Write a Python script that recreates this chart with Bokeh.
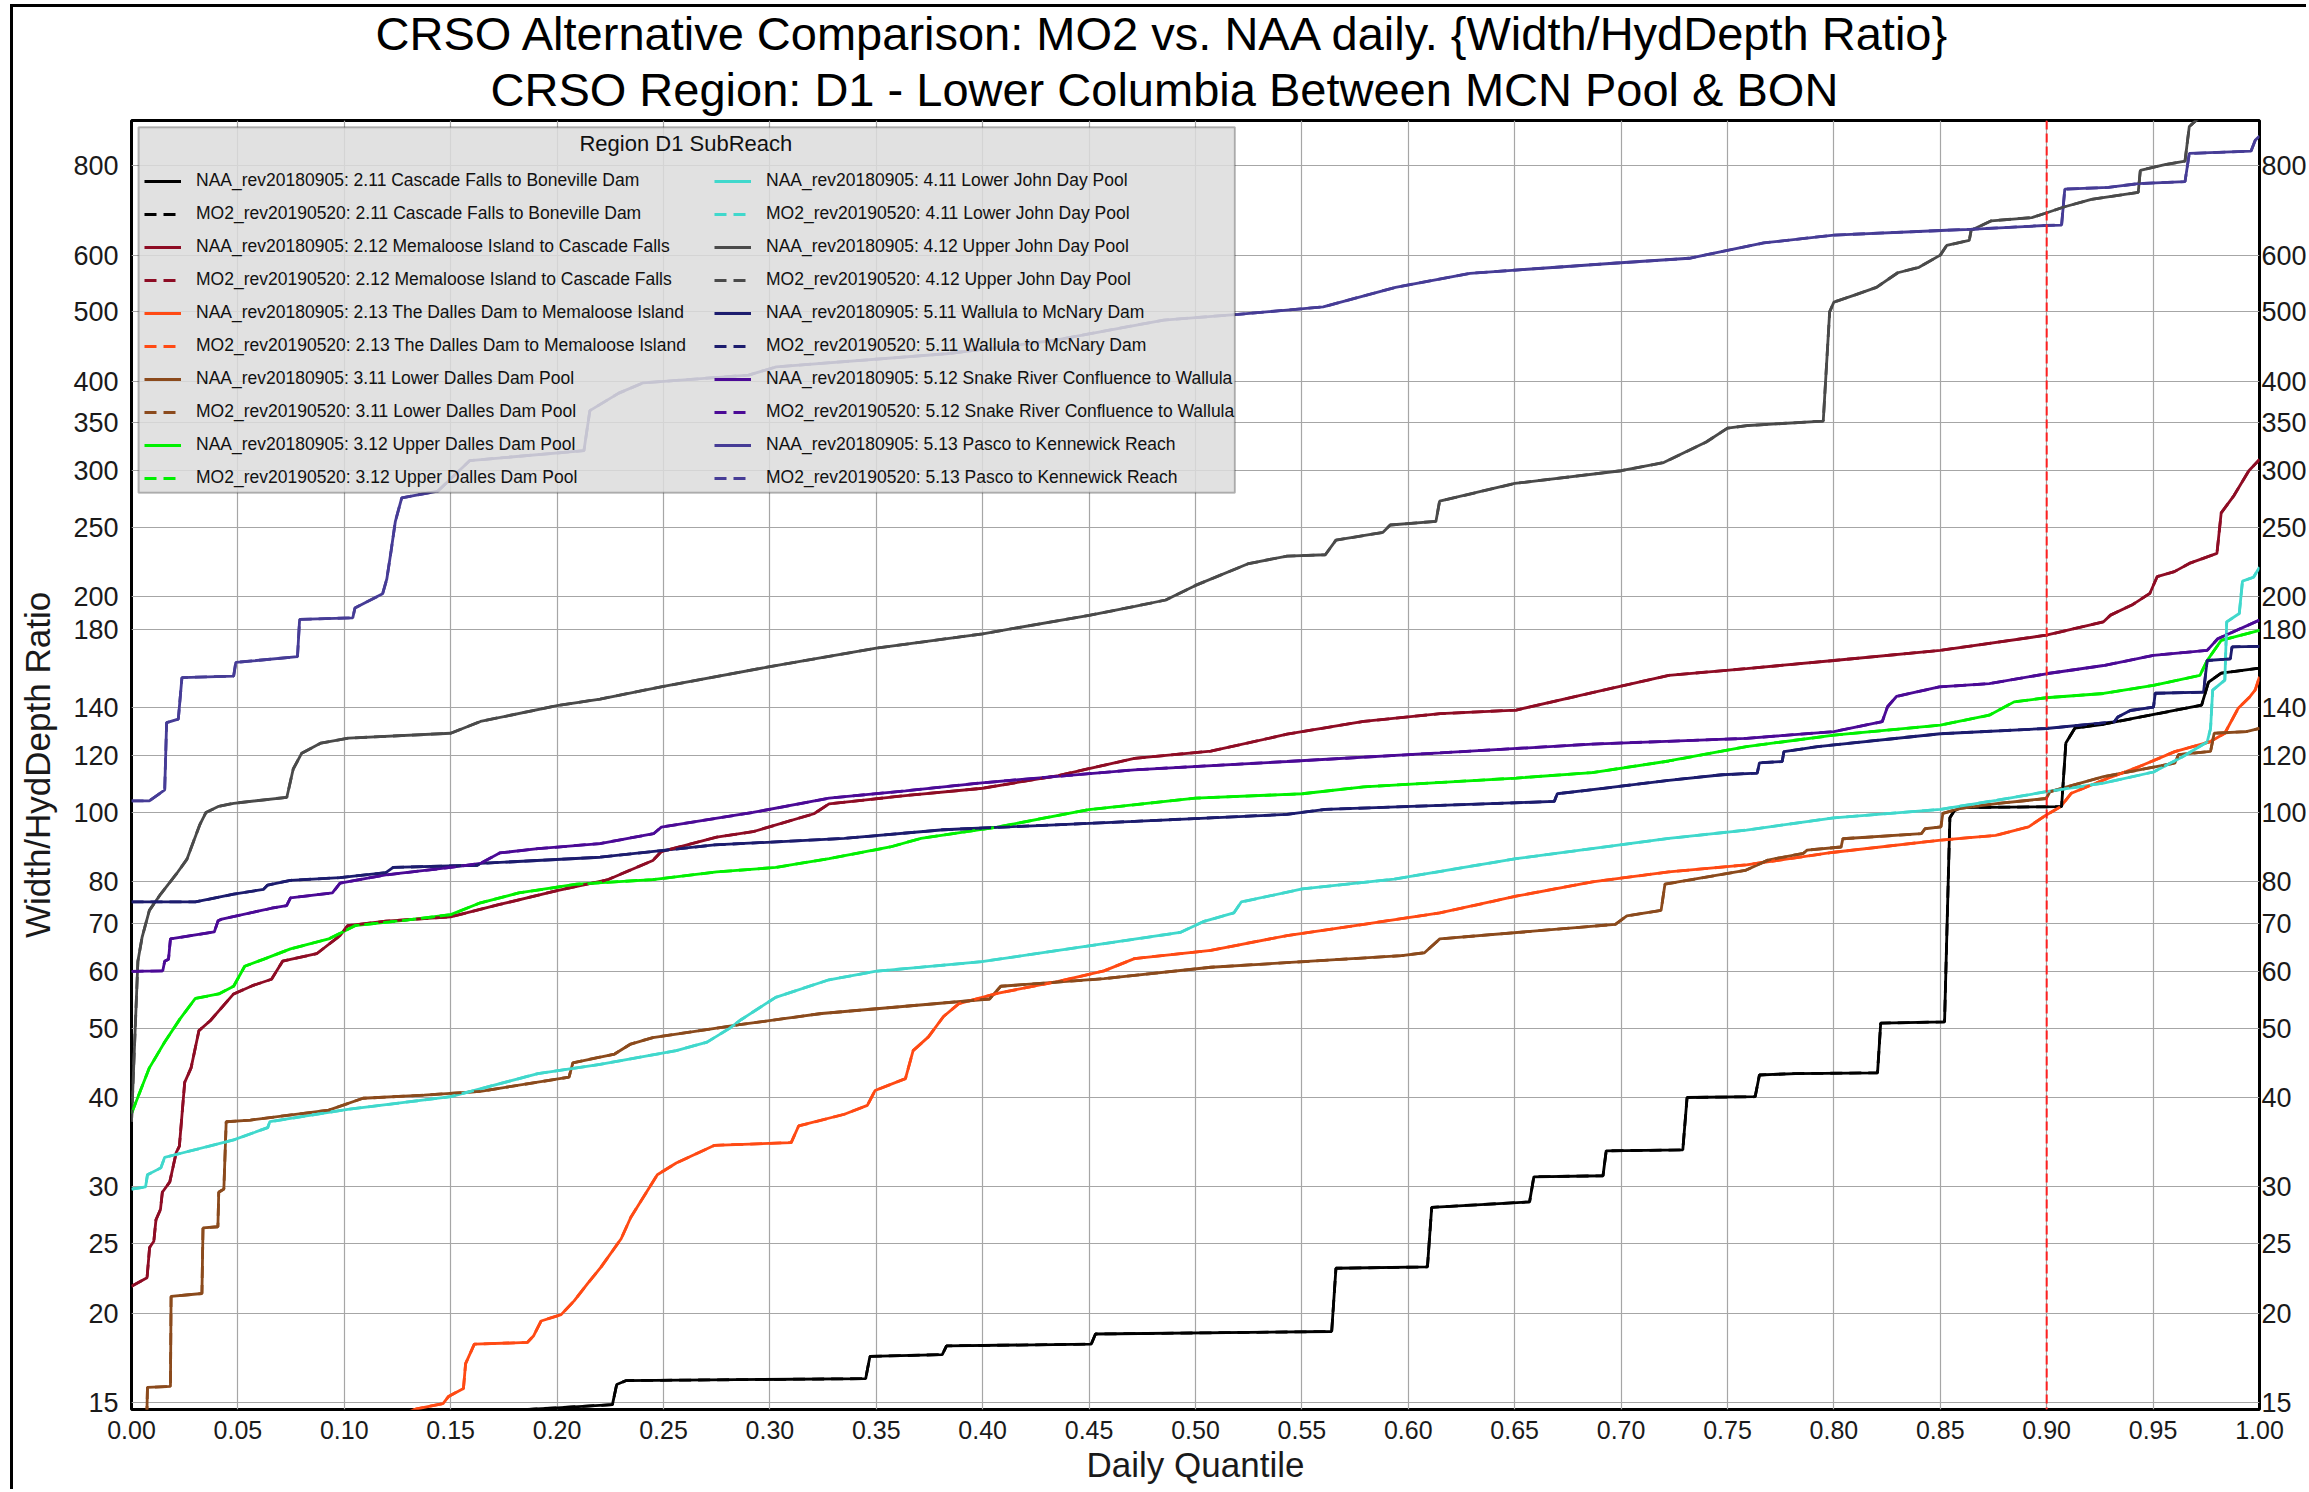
from bokeh.plotting import figure
from bokeh.models import (Range1d, FixedTicker, PrintfTickFormatter, LogAxis, Span,
                          Legend, LegendItem, BoxAnnotation, Label, Title)
from bokeh.embed import file_html
from bokeh.resources import INLINE

FONT = "Liberation Sans"

# ---------------- data ----------------
x_ticks = [round(i * 0.05, 2) for i in range(21)]
y_ticks = [15, 20, 25, 30, 40, 50, 60, 70, 80, 100, 120, 140, 180, 200, 250, 300, 350, 400, 500, 600, 800]

reach_names = ["2.11 Cascade Falls to Boneville Dam",
               "2.12 Memaloose Island to Cascade Falls",
               "2.13 The Dalles Dam to Memaloose Island",
               "3.11 Lower Dalles Dam Pool",
               "3.12 Upper Dalles Dam Pool",
               "4.11 Lower John Day Pool",
               "4.12 Upper John Day Pool",
               "5.11 Wallula to McNary Dam",
               "5.12 Snake River Confluence to Wallula",
               "5.13 Pasco to Kennewick Reach"]
reach_colors = ["#000000", "#8e0c24", "#ff4a14", "#8b4a1c", "#00f000",
                "#40d8cc", "#4a4a4a", "#1c1c6e", "#4b0a96", "#463c96"]

q_211 = [0.0, 0.10, 0.173, 0.20, 0.226, 0.228, 0.2325, 0.345, 0.347, 0.381, 0.383, 0.451, 0.453,
         0.564, 0.566, 0.609, 0.611, 0.657, 0.659, 0.6915, 0.693, 0.729, 0.731, 0.763, 0.765, 0.782,
         0.8205, 0.822, 0.852, 0.8545, 0.8565, 0.8596, 0.907, 0.909, 0.9133, 0.9267, 0.9728, 0.976,
         0.982, 1.0]
v_211 = [12.0, 13.5, 14.6, 14.75, 14.9, 15.9, 16.1, 16.2, 17.4, 17.5, 18.0, 18.1, 18.7,
         18.85, 23.1, 23.2, 28.1, 28.6, 31.0, 31.1, 33.7, 33.8, 40.0, 40.1, 43.0, 43.2,
         43.3, 50.8, 51.0, 98.3, 100.5, 101.6, 101.9, 125.0, 131.2, 132.8, 141.2, 152.0,
         156.5, 159.0]

q_212 = [0.0, 0.0073, 0.0085, 0.0105, 0.0115, 0.0136, 0.0145, 0.018, 0.021, 0.0225, 0.025, 0.028,
         0.0317, 0.037, 0.048, 0.0568, 0.0658, 0.071, 0.087, 0.098, 0.1016, 0.1195, 0.15, 0.173,
         0.20, 0.2235, 0.245, 0.249, 0.275, 0.292, 0.3207, 0.3278, 0.3637, 0.40, 0.4355, 0.4713,
         0.5072, 0.543, 0.579, 0.615, 0.6507, 0.6865, 0.7224, 0.7589, 0.80, 0.85, 0.8998, 0.9267,
         0.930, 0.940, 0.9485, 0.9519, 0.960, 0.967, 0.980, 0.982, 0.988, 0.995, 1.0]
v_212 = [21.8, 22.4, 24.7, 25.2, 27.0, 27.9, 29.5, 30.5, 33.5, 34.2, 42.0, 44.0,
         49.6, 51.2, 55.8, 57.3, 58.5, 62.0, 63.5, 67.3, 69.5, 70.5, 71.5, 74.4,
         77.8, 80.5, 85.7, 88.2, 92.4, 94.0, 99.6, 102.8, 105.6, 108.1, 112.6, 119.0,
         121.8, 128.6, 134.0, 137.4, 139.0, 147.0, 155.4, 158.8, 163.0, 168.4, 176.8, 184.6,
         188.6, 194.8, 202.3, 213.4, 216.9, 222.7, 230.0, 262.0, 277.0, 300.0, 311.0]

q_213 = [0.0, 0.10, 0.134, 0.1464, 0.149, 0.156, 0.157, 0.1611, 0.186, 0.189, 0.1925, 0.2019,
         0.208, 0.2144, 0.2207, 0.2301, 0.2346, 0.2471, 0.256, 0.274, 0.31, 0.3135, 0.335, 0.3458,
         0.3494, 0.3637, 0.3673, 0.3745, 0.3816, 0.3888, 0.4068, 0.4355, 0.457, 0.4713, 0.5072,
         0.543, 0.579, 0.6148, 0.6507, 0.6865, 0.7224, 0.7589, 0.80, 0.8503, 0.876, 0.8915, 0.8998,
         0.9066, 0.9116, 0.9267, 0.9435, 0.9602, 0.977, 0.9837, 0.990, 0.9955, 0.998, 1.0]
v_213 = [10.0, 13.5, 14.7, 14.95, 15.3, 15.7, 17.0, 18.1, 18.2, 18.6, 19.5, 19.9,
         20.8, 22.0, 23.2, 25.4, 27.2, 31.2, 32.4, 34.3, 34.6, 36.5, 37.9, 39.0,
         40.9, 42.5, 46.5, 48.6, 51.9, 54.1, 55.9, 58.1, 60.1, 62.5, 64.2,
         67.3, 69.8, 72.4, 76.4, 80.0, 82.6, 84.5, 88.0, 91.5, 92.9, 95.5, 99.2,
         101.9, 106.4, 111.0, 115.9, 121.6, 125.6, 129.0, 139.8, 145.1, 148.3, 154.7]

q_311 = [0.0, 0.007, 0.0075, 0.0183, 0.0186, 0.0331, 0.0336, 0.0406, 0.041, 0.0434, 0.0445,
         0.0559, 0.0927, 0.1088, 0.1375, 0.164, 0.2056, 0.2074, 0.227, 0.2346, 0.245, 0.275,
         0.2848, 0.3243, 0.4032, 0.4085, 0.457, 0.5072, 0.5969, 0.6076, 0.6148, 0.6973, 0.7027,
         0.7188, 0.7206, 0.7583, 0.769, 0.7857, 0.7874, 0.8034, 0.8042, 0.8411, 0.8428, 0.8503,
         0.8512, 0.8596, 0.8763, 0.8998, 0.9015, 0.9267, 0.9602, 0.9619, 0.977, 0.9787, 0.9938, 1.0]
v_311 = [12.0, 13.5, 15.75, 15.8, 21.1, 21.3, 26.3, 26.4, 29.5, 29.8, 37.0,
         37.2, 38.4, 39.9, 40.3, 40.8, 42.7, 44.7, 46.0, 47.5, 48.5, 50.0,
         50.5, 52.4, 54.9, 57.2, 58.6, 60.8, 63.1, 63.7, 66.6, 69.8, 71.7,
         73.0, 79.4, 83.0, 85.8, 87.7, 88.6, 89.5, 91.9, 93.4, 94.9, 95.5,
         99.7, 101.3, 102.9, 104.6, 106.9, 112.2, 117.2, 120.4, 121.7, 129.0, 129.7, 131.0]

q_312 = [0.0, 0.0084, 0.0156, 0.0228, 0.03, 0.041, 0.048, 0.0532, 0.0622, 0.0747, 0.0927, 0.105,
         0.13, 0.15, 0.164, 0.182, 0.2092, 0.245, 0.275, 0.3027, 0.3278, 0.3565, 0.371, 0.4068,
         0.4355, 0.4498, 0.50, 0.5502, 0.579, 0.6507, 0.6865, 0.7224, 0.7589, 0.80, 0.85, 0.873,
         0.8847, 0.8998, 0.9267, 0.9502, 0.972, 0.9754, 0.982, 1.0]
v_312 = [38.0, 44.0, 47.8, 51.5, 55.0, 55.8, 57.2, 61.0, 62.4, 64.5, 66.6, 69.5,
         70.8, 72.0, 74.8, 77.2, 79.4, 80.6, 82.6, 83.8, 86.2, 89.5, 92.0, 95.4,
         99.1, 100.9, 104.7, 106.2, 108.6, 111.7, 113.7, 118.0, 123.6, 128.2, 132.4, 136.7,
         142.7, 144.6, 146.6, 150.5, 155.4, 163.0, 173.9, 179.6]

q_411 = [0.0, 0.0066, 0.0075, 0.0138, 0.0156, 0.021, 0.048, 0.064, 0.065, 0.1016, 0.15, 0.191,
         0.2202, 0.256, 0.2705, 0.2812, 0.2866, 0.3027, 0.3278, 0.3494, 0.3996, 0.4355, 0.4928,
         0.5036, 0.518, 0.5215, 0.5502, 0.5933, 0.6507, 0.7224, 0.7589, 0.80, 0.85, 0.8763, 0.8998,
         0.9267, 0.9502, 0.9636, 0.9754, 0.977, 0.978, 0.9837, 0.9846, 0.9905, 0.992, 0.9972, 1.0]
v_411 = [29.8, 30.0, 31.2, 31.9, 33.0, 33.3, 34.9, 36.3, 37.0, 38.5, 40.1, 43.2,
         44.5, 46.5, 47.8, 50.0, 51.4, 55.2, 58.4, 60.0, 61.9, 64.2, 68.0,
         70.4, 72.4, 75.0, 78.2, 80.7, 86.2, 92.0, 94.5, 98.3, 101.0, 104.0, 106.9,
         109.9, 113.9, 119.5, 125.4, 131.0, 148.2, 153.0, 184.6, 189.6, 210.4, 213.0, 220.0]

q_412 = [0.0, 0.003, 0.005, 0.0084, 0.0138, 0.021, 0.026, 0.032, 0.035, 0.041, 0.048, 0.073,
         0.076, 0.080, 0.089, 0.102, 0.150, 0.164, 0.200, 0.2202, 0.25, 0.30, 0.35, 0.40, 0.45,
         0.4715, 0.486, 0.50, 0.525, 0.543, 0.561, 0.566, 0.588, 0.5915, 0.613, 0.6147, 0.65,
         0.70, 0.72, 0.74, 0.75, 0.76, 0.795, 0.798, 0.80, 0.81, 0.82, 0.83, 0.84, 0.85, 0.853,
         0.8636, 0.8645, 0.874, 0.893, 0.899, 0.9085, 0.921, 0.943, 0.944, 0.955, 0.965, 0.967,
         0.971, 0.975, 1.0]
v_412 = [37.0, 62.0, 67.0, 73.0, 77.0, 82.0, 86.0, 96.0, 100.0, 102.0, 103.0, 105.0,
         115.0, 121.0, 125.0, 127.0, 129.0, 134.0, 141.0, 144.0, 150.0, 159.8, 169.6, 177.6, 188.5,
         194.0, 198.0, 207.5, 222.6, 228.0, 229.0, 240.0, 246.0, 252.0, 255.0, 272.0, 288.0,
         300.0, 308.0, 329.0, 344.0, 347.0, 352.0, 500.0, 516.0, 528.0, 541.0, 567.0, 577.0, 600.0, 619.0,
         629.0, 650.0, 670.0, 677.0, 686.0, 701.0, 718.0, 734.0, 788.0, 802.0, 812.0, 907.0,
         930.0, 1000.0, 1100.0]

q_511 = [0.0, 0.03, 0.048, 0.062, 0.064, 0.0747, 0.098, 0.1195, 0.123, 0.1625, 0.164, 0.2202,
         0.274, 0.335, 0.3816, 0.4713, 0.543, 0.561, 0.6686, 0.67, 0.6865, 0.7224, 0.7475, 0.764,
         0.765, 0.7757, 0.7765, 0.7924, 0.85, 0.8998, 0.9317, 0.9334, 0.9393, 0.9502, 0.951,
         0.9737, 0.9754, 0.9863, 0.9871, 1.0]
v_511 = [75.0, 75.0, 76.9, 78.1, 79.2, 80.4, 81.1, 82.4, 83.8, 84.4, 84.9, 86.6,
         90.1, 92.0, 94.6, 97.2, 99.4, 101.0, 103.6, 106.2, 107.6, 110.9, 112.9, 113.5,
         117.3, 117.8, 121.6, 123.6, 128.8, 131.0, 133.8, 135.9, 138.8, 140.3, 146.7,
         147.2, 163.0, 163.9, 170.3, 170.6]

q_512 = [0.0, 0.0147, 0.0156, 0.0174, 0.0183, 0.0389, 0.0407, 0.0425, 0.0658, 0.0729, 0.0747,
         0.0944, 0.098, 0.1195, 0.15, 0.164, 0.173, 0.191, 0.2202, 0.2453, 0.249, 0.292, 0.3278,
         0.3637, 0.3996, 0.4713, 0.543, 0.6148, 0.6865, 0.7589, 0.80, 0.8227, 0.8252, 0.8294,
         0.8495, 0.873, 0.8998, 0.9267, 0.9502, 0.9754, 0.9804, 1.0]
v_512 = [60.0, 60.1, 62.0, 62.4, 66.6, 68.1, 70.6, 71.0, 73.5, 74.1, 76.0,
         77.2, 79.7, 81.8, 83.8, 84.9, 87.8, 89.0, 90.5, 93.4, 95.4, 100.0, 104.7,
         107.2, 110.0, 114.7, 117.8, 121.1, 124.6, 126.9, 129.7, 133.9, 140.5, 145.2,
         149.7, 151.3, 156.2, 160.4, 165.7, 168.4, 174.8, 185.6]

q_513 = [0.0, 0.0084, 0.0156, 0.0165, 0.022, 0.0237, 0.048, 0.049, 0.078, 0.079, 0.104, 0.105,
         0.118, 0.120, 0.122, 0.124, 0.127, 0.144, 0.159, 0.2126, 0.2154, 0.229, 0.2405, 0.29,
         0.303, 0.383, 0.433, 0.485, 0.52, 0.56, 0.594, 0.629, 0.698, 0.732, 0.767, 0.80, 0.853,
         0.864, 0.899, 0.907, 0.9085, 0.929, 0.943, 0.965, 0.967, 0.996, 0.998, 1.0]
v_513 = [103.8, 103.8, 107.5, 133.5, 135.0, 154.3, 155.0, 162.0, 165.0, 186.0, 187.0, 193.0,
         202.0, 212.0, 232.0, 255.0, 275.0, 281.0, 310.0, 320.0, 364.0, 385.0, 398.0, 408.0,
         419.0, 437.0, 456.0, 487.0, 496.0, 508.0, 541.0, 566.0, 585.0, 594.0, 624.0, 640.0, 650.0,
         652.0, 660.0, 661.0, 742.0, 746.0, 755.0, 760.0, 832.0, 838.0, 868.0, 880.0]

naa_q = [q_211, q_212, q_213, q_311, q_312, q_411, q_412, q_511, q_512, q_513]
naa_v = [v_211, v_212, v_213, v_311, v_312, v_411, v_412, v_511, v_512, v_513]
# MO2 curves coincide with the NAA curves in the reference
mo2_q = [list(q) for q in naa_q]
mo2_v = [list(v) for v in naa_v]

# ---------------- figure ----------------
p = figure(width=2296, height=1485, x_range=Range1d(0, 1), y_range=Range1d(14.67, 925),
           y_axis_type="log", output_backend="svg", toolbar_location=None,
           min_border_left=118, min_border_top=113, min_border_right=45, min_border_bottom=83)
p.margin = (4, 0, 0, 10)
p.styles = {"border-left": "3px solid black", "border-top": "3px solid black"}
p.background_fill_color = "white"
p.border_fill_color = "white"
p.outline_line_color = "black"
p.outline_line_width = 3

t2 = Title(text="CRSO Region: D1 - Lower Columbia Between MCN Pool & BON", align="left",
           offset=359, text_font=FONT, text_font_size="47px", text_font_style="normal",
           text_color="black", standoff=9)
t1 = Title(text="CRSO Alternative Comparison: MO2 vs. NAA daily. {Width/HydDepth Ratio}",
           align="left", offset=244, text_font=FONT, text_font_size="47px",
           text_font_style="normal", text_color="black", standoff=-7)
p.add_layout(t2, "above")
p.add_layout(t1, "above")

def style_axis(ax, standoff):
    ax.major_label_text_font = FONT
    ax.major_label_text_color = "#1a1a1a"
    ax.axis_label_text_font = FONT
    ax.axis_label_text_font_style = "normal"
    ax.axis_label_text_font_size = "35px"
    ax.axis_label_text_color = "#1a1a1a"
    ax.major_tick_out = 0
    ax.major_tick_in = 0
    ax.minor_tick_out = 0
    ax.minor_tick_in = 0
    ax.axis_line_color = None
    ax.major_label_standoff = standoff

xa = p.xaxis[0]
xa.ticker = FixedTicker(ticks=x_ticks)
xa.formatter = PrintfTickFormatter(format="%.2f")
xa.axis_label = "Daily Quantile"
style_axis(xa, 11)
xa.major_label_text_font_size = "25px"
xa.axis_label_standoff = 3

ya = p.yaxis[0]
ya.ticker = FixedTicker(ticks=y_ticks)
ya.formatter = PrintfTickFormatter(format="%d")
ya.axis_label = "Width/HydDepth Ratio"
style_axis(ya, 13)
ya.major_label_text_font_size = "27px"
ya.axis_label_standoff = 13

yr = LogAxis(ticker=FixedTicker(ticks=y_ticks), formatter=PrintfTickFormatter(format="%d"))
style_axis(yr, 2)
yr.major_label_text_font_size = "27px"
p.add_layout(yr, "right")

p.xgrid.grid_line_color = "#a6a6a6"
p.ygrid.grid_line_color = "#a6a6a6"
p.xgrid.grid_line_width = 1.2
p.ygrid.grid_line_width = 1.2

# ---------------- lines ----------------
naa_r, mo2_r = [], []
for q, v, c in zip(naa_q, naa_v, reach_colors):
    naa_r.append(p.line(q, v, line_color=c, line_width=2.8))
for q, v, c in zip(mo2_q, mo2_v, reach_colors):
    mo2_r.append(p.line(q, v, line_color=c, line_width=2.8, line_dash="12 7"))

p.add_layout(Span(location=0.9, dimension="height", line_color="#ff2020",
                  line_dash="9 4", line_width=2))

# legend frame (semi-transparent box) and title
p.add_layout(BoxAnnotation(left=0.0033, right=0.5185, bottom=279.5, top=905,
                           fill_color="#dcdcdc", fill_alpha=0.85,
                           line_color="#222222", line_width=2))

items = []
for i, name in enumerate(reach_names):
    items.append(LegendItem(label="NAA_rev20180905: " + name, renderers=[naa_r[i]]))
    items.append(LegendItem(label="MO2_rev20190520: " + name, renderers=[mo2_r[i]]))

legend = Legend(items=items, ncols=2, location=(13, 921), orientation="vertical",
                background_fill_alpha=0, border_line_color=None, padding=0, margin=0,
                spacing=12, glyph_width=37, glyph_height=20, label_height=20,
                label_width=506, label_standoff=15,
                label_text_font=FONT, label_text_font_size="17.5px",
                label_text_color="#111111")
p.add_layout(legend)

p.add_layout(Label(x=0.2605, y=859, text="Region D1 SubReach", text_align="center",
                   text_baseline="middle", text_font=FONT, text_font_size="22px",
                   text_color="#111111"))

open("out.html", "w").write(file_html(p, INLINE))
